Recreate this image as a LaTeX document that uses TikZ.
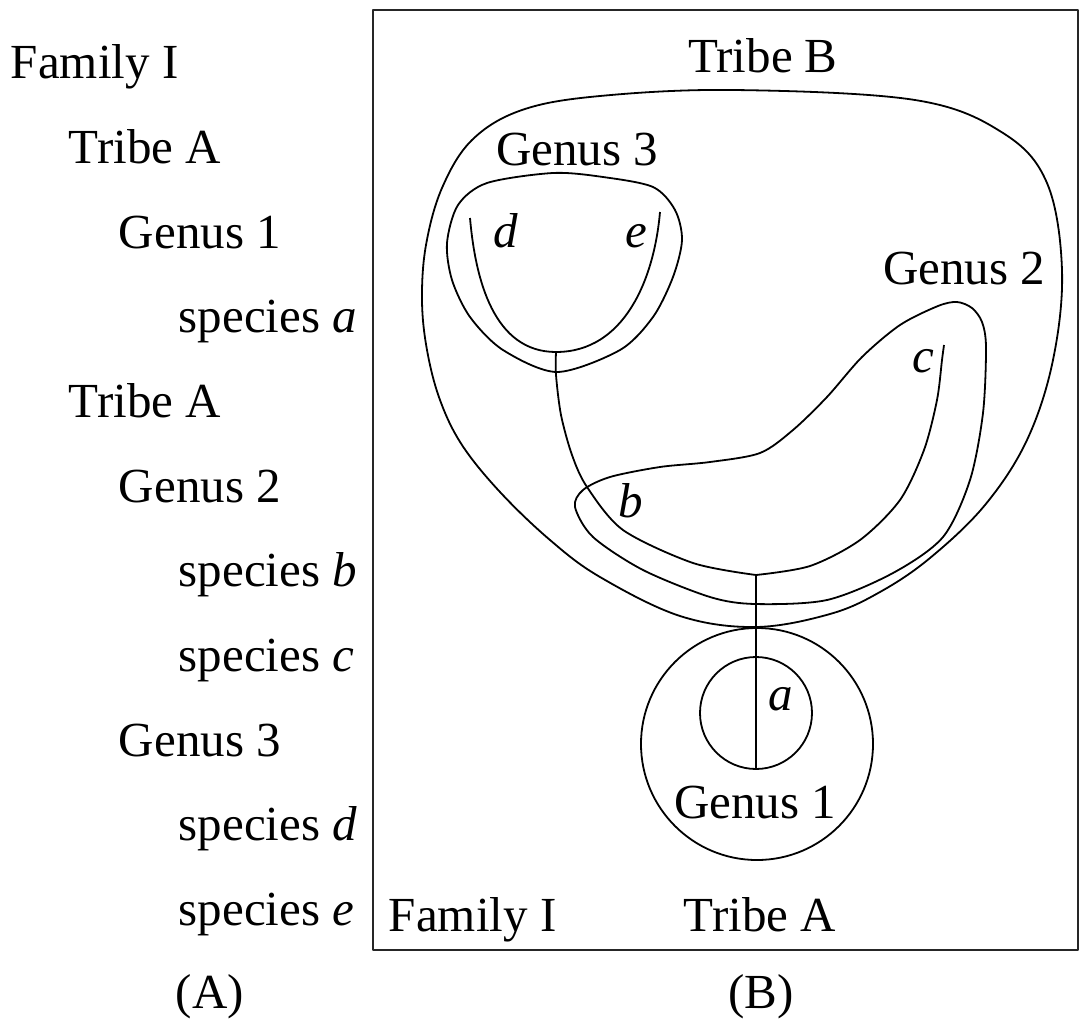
\documentclass[tikz,border=0pt]{standalone}
\usepackage{fontspec}
\setmainfont{Liberation Serif}
\begin{document}
\begin{tikzpicture}[x=1pt,y=-1pt, line width=1.8pt, line join=round,
  txt/.style={font=\fontsize{49}{58}\selectfont, inner sep=0pt, anchor=base west},
  ctxt/.style={txt, anchor=base},
  frame/.style={line width=2.2pt, draw=black!85},
  blob/.style={line width=1.8pt}]
\useasboundingbox (0,0) rectangle (1080,1023);
\draw[frame] (373,10) rectangle (1078,950);
% left column (A)
\node[txt] (fam) at (10,78) {Family I};
\node[txt] (trA1) at (68,163) {Tribe A};
\node[txt] (gen1) at (118,248) {Genus 1};
\node[txt] (spa) at (178,332) {species \textit{a}};
\node[txt] (trA2) at (68,417) {Tribe A};
\node[txt] (gen2) at (118,502) {Genus 2};
\node[txt] (spb) at (178,586) {species \textit{b}};
\node[txt] (spc) at (178,671) {species \textit{c}};
\node[txt] (gen3) at (118,756) {Genus 3};
\node[txt] (spd) at (178,840) {species \textit{d}};
\node[txt] (spe) at (178,925) {species \textit{e}};
\node[ctxt] (labA) at (210,1008) {(A)};
\node[ctxt] (labB) at (761,1008) {(B)};
% panel (B) labels
\node[ctxt] (TB) at (763,72) {Tribe B};
\node[ctxt] (G3) at (577,165) {Genus 3};
\node[ctxt] (G2) at (964,284) {Genus 2};
\node[ctxt] (G1) at (755,818) {Genus 1};
\node[ctxt] (TA) at (760,931) {Tribe A};
\node[txt] (FI) at (388,931) {Family I};
\node[txt] (ld) at (493,247) {\textit{d}};
\node[txt] (le) at (625,247) {\textit{e}};
\node[txt] (lc) at (912,372) {\textit{c}};
\node[txt] (lb) at (618,517) {\textit{b}};
\node[txt] (la) at (768,710) {\textit{a}};
% Tribe B outline
\draw[blob] plot[smooth cycle, tension=0.6] coordinates {(734,90) (915,100) (1003,133) (1047,183) (1062,270) (1053,360) (1027,440) (985,505) (930,558) (880,592) (830,614) (756,627) (680,616) (600,577) (550,540) (500,492) (462,445) (440,400) (427,350) (422,300) (426,245) (442,188) (472,140) (522,110) (600,96)};
% Genus 3 outline
\draw[blob] plot[smooth cycle] coordinates {(553,173) (603,177) (653,187) (675,210) (682,240) (673,277) (653,317) (620,350) (557,372) (503,350) (470,317) (452,280) (447,243) (458,205) (487,183)};
% Genus 2 outline
\draw[blob] plot[smooth cycle] coordinates {(957,302) (972,308) (982,322) (986,347) (983,413) (970,480) (943,537) (893,573) (827,600) (755,604) (710,597) (643,570) (593,537) (575,507) (583,490) (610,477) (660,467) (710,462) (760,453) (793,430) (827,397) (862,357) (900,325) (938,306)};
% Genus 1 circles
\node[circle, draw, line width=1.8pt, minimum size=232pt, inner sep=0pt] (G1c) at (757,744) {};
\node[circle, draw, line width=1.8pt, minimum size=112pt, inner sep=0pt] (ac) at (756,713) {};
% tree
\coordinate (dTop) at (470,218);
\coordinate (eTop) at (660,212);
\coordinate (j3) at (556,352);
\coordinate (jbc) at (756,575);
\coordinate (cTop) at (944,345);
\coordinate (aEnd) at (756,769);
\draw (dTop) to[out=-85,in=180] (j3) to[out=0,in=-95] (eTop);
\draw plot[smooth] coordinates {(j3) (556,375) (561,415) (572,455) (587,487) (623,530) (693,563) (jbc)};
\draw plot[smooth] coordinates {(jbc) (810,566) (860,540) (900,500) (924,450) (937,400) (942,360) (cTop)};
\draw (jbc) -- (aEnd);
\end{tikzpicture}
\end{document}
